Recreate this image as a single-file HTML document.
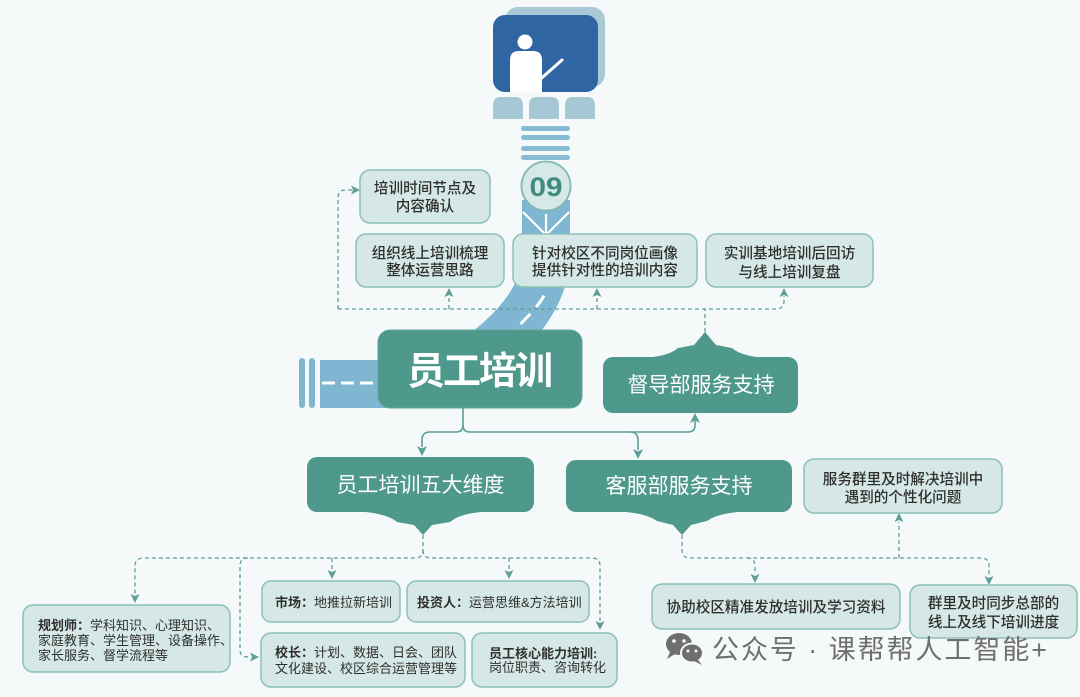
<!DOCTYPE html>
<html>
<head>
<meta charset="utf-8">
<style>
  html,body{margin:0;padding:0;background:#f5f9fa;}
  body{width:1080px;height:697px;overflow:hidden;}
  svg{display:block;}
  text{font-family:"Liberation Sans","Noto Sans CJK SC",sans-serif;}
</style>
</head>
<body>
<svg width="1080" height="697" viewBox="0 0 1080 697" xmlns="http://www.w3.org/2000/svg">
  <rect x="0" y="0" width="1080" height="697" fill="#f5f9fa"/>

  <!-- ===== Road ===== -->
  <!-- horizontal band left -->
  <rect x="320" y="360" width="120" height="48" fill="#7fb7d3"/>
  <rect x="299" y="358" width="6" height="50" rx="3" fill="#7fb7d3"/>
  <rect x="309" y="358" width="6" height="50" rx="3" fill="#7fb7d3"/>
  <line x1="322" y1="383" x2="378" y2="383" stroke="#ffffff" stroke-width="3" stroke-dasharray="13 6"/>
  <!-- vertical + curve -->
  <path d="M546,200 L546,255 C546,300 505,350 430,384" fill="none" stroke="#7fb7d3" stroke-width="48"/>
  <path d="M546,290 C546,300 505,350 430,384" fill="none" stroke="#ffffff" stroke-width="3" stroke-dasharray="14 9" stroke-dashoffset="-6"/>
  <!-- V lines under circle -->
  <polyline points="523,212 546,235 569,212" fill="none" stroke="#ffffff" stroke-width="2.2"/>
  <line x1="546" y1="214" x2="546" y2="235" stroke="#ffffff" stroke-width="2.2"/>

  <!-- ===== Teacher icon ===== -->
  <rect x="505" y="7" width="100" height="80" rx="13" fill="#a8c9d5"/>
  <rect x="493" y="15" width="105" height="77" rx="12" fill="#2f65a2"/>
  <circle cx="525" cy="42" r="7.5" fill="#ffffff"/>
  <path d="M510,92 L510,60 Q510,51 519,51 L533,51 Q542,51 542,60 L542,92 Z" fill="#ffffff"/>
  <line x1="536" y1="83" x2="562" y2="60" stroke="#ffffff" stroke-width="3" stroke-linecap="round"/>
  <!-- seats -->
  <path d="M493,119 L493,105 Q493,97 501,97 L515,97 Q523,97 523,105 L523,119 Z" fill="#a6c8d4"/>
  <path d="M529,119 L529,105 Q529,97 537,97 L551,97 Q559,97 559,105 L559,119 Z" fill="#a6c8d4"/>
  <path d="M565,119 L565,105 Q565,97 573,97 L587,97 Q595,97 595,105 L595,119 Z" fill="#a6c8d4"/>
  <!-- stripes -->
  <rect x="521" y="126" width="49" height="5" rx="2.5" fill="#86bcd6"/>
  <rect x="521" y="135" width="49" height="5" rx="2.5" fill="#86bcd6"/>
  <rect x="521" y="146" width="49" height="5" rx="2.5" fill="#86bcd6"/>
  <rect x="521" y="155" width="49" height="5" rx="2.5" fill="#86bcd6"/>
  <!-- 09 circle -->
  <circle cx="546" cy="186" r="24.5" fill="#d6e9e6" stroke="#7fb8ae" stroke-width="1.8"/>
  <text x="546" y="196" text-anchor="middle" font-size="27" font-weight="bold" fill="#3f8b7f" textLength="33" lengthAdjust="spacingAndGlyphs">09</text>

  <!-- ===== Top dashed connectors ===== -->
  <g fill="none" stroke="#5d9f96" stroke-width="1.3" stroke-dasharray="4 3">
    <path d="M705,332 L705,309"/>
    <path d="M338,309 L776,309 Q784,309 784,301 L784,296"/>
    <path d="M338,309 L338,198 Q338,190 346,190 L352,190"/>
    <path d="M449,309 L449,296"/>
    <path d="M597,309 L597,296"/>
  </g>
  <g fill="#5d9f96">
    <polygon points="360,190 351,185.5 353,190 351,194.5"/>
    <polygon points="449,288 444.5,297 449,295 453.5,297"/>
    <polygon points="597,288 592.5,297 597,295 601.5,297"/>
    <polygon points="784,288 779.5,297 784,295 788.5,297"/>
  </g>

  <!-- ===== Top light boxes ===== -->
  <g fill="#d5e8e5" stroke="#8cc0b7" stroke-width="1.5">
    <rect x="360" y="170" width="130" height="53" rx="10"/>
    <rect x="356" y="234" width="148" height="53" rx="10"/>
    <rect x="513" y="234" width="184" height="53" rx="10"/>
    <rect x="706" y="234" width="167" height="53" rx="10"/>
  </g>
  <g font-size="14.6" fill="#2f2f2f" text-anchor="middle" font-weight="500">
    <text x="425" y="193">培训时间节点及</text>
    <text x="425" y="211">内容确认</text>
    <text x="430" y="258">组织线上培训梳理</text>
    <text x="430" y="275">整体运营思路</text>
    <text x="605" y="258">针对校区不同岗位画像</text>
    <text x="605" y="275">提供针对性的培训内容</text>
    <text x="789.5" y="258">实训基地培训后回访</text>
    <text x="789.5" y="277">与线上培训复盘</text>
  </g>

  <!-- ===== Main box ===== -->
  <rect x="378" y="330" width="204" height="78" rx="12" fill="#4f988c" stroke="#5ea69a" stroke-width="1"/>
  <text x="480" y="384" text-anchor="middle" font-size="38" font-weight="bold" fill="#ffffff" textLength="146" lengthAdjust="spacing">员工培训</text>

  <!-- 督导部 box with roof pointer -->
  <path d="M640,358 Q668,357 678,348 L694,345 L705,332 L716,345 L732,348 Q742,357 770,358 Z" fill="#4f988c"/>
  <rect x="603" y="357" width="195" height="56" rx="10" fill="#4f988c"/>
  <text x="701" y="392" text-anchor="middle" font-size="21" fill="#ffffff">督导部服务支持</text>

  <!-- ===== Solid connectors ===== -->
  <g fill="none" stroke="#5a9f95" stroke-width="1.6">
    <path d="M463,408 L463,425 Q463,432 456,432 L430,432 Q422,432 422,440 L422,447"/>
    <path d="M463,425 Q463,432 470,432 L630,432 Q638,432 638,440 L638,450"/>
    <path d="M630,432 L688,432 Q695,432 695,425 L695,421"/>
  </g>
  <g fill="#5a9f95">
    <polygon points="422,456 417,446 422,448.5 427,446"/>
    <polygon points="638,459 633,449 638,451.5 643,449"/>
    <polygon points="695,413 690,423 695,420.5 700,423"/>
  </g>

  <!-- ===== Second-level dark boxes ===== -->
  <path d="M350,511 Q385,512 397,522 L414,525 L423,535 L432,525 L450,522 Q461,512 496,511 Z" fill="#4f988c"/>
  <rect x="307" y="457" width="227" height="55" rx="10" fill="#4f988c"/>
  <text x="420.5" y="492" text-anchor="middle" font-size="21" fill="#ffffff">员工培训五大维度</text>

  <path d="M610,511 Q645,512 657,521 L673,525 L682,535 L691,525 L707,521 Q719,512 754,511 Z" fill="#4f988c"/>
  <rect x="566" y="460" width="226" height="52" rx="10" fill="#4f988c"/>
  <text x="679" y="493" text-anchor="middle" font-size="21" fill="#ffffff">客服部服务支持</text>

  <!-- ===== Right dashed connectors ===== -->
  <g fill="none" stroke="#5d9f96" stroke-width="1.3" stroke-dasharray="4 3">
    <path d="M682,535 L682,550 Q682,558 690,558 L981,558 Q989,558 989,566 L989,576"/>
    <path d="M747,558 Q755,558 755,566 L755,574"/>
    <path d="M899,558 L899,522"/>
  </g>
  <g fill="#5d9f96">
    <polygon points="755,583 750.5,574 755,576 759.5,574"/>
    <polygon points="989,585 984.5,576 989,578 993.5,576"/>
    <polygon points="899,513 894.5,522 899,520 903.5,522"/>
  </g>

  <g fill="#d5e8e5" stroke="#8cc0b7" stroke-width="1.5">
    <rect x="804" y="459" width="198" height="54" rx="10"/>
    <rect x="652" y="584" width="248" height="45" rx="10"/>
    <rect x="910" y="585" width="167" height="53" rx="10"/>
  </g>
  <g font-size="14.6" fill="#2f2f2f" text-anchor="middle" font-weight="500">
    <text x="903" y="484">服务群里及时解决培训中</text>
    <text x="903" y="502">遇到的个性化问题</text>
    <text x="776" y="612">协助校区精准发放培训及学习资料</text>
    <text x="993.5" y="608">群里及时同步总部的</text>
    <text x="993.5" y="627">线上及线下培训进度</text>
  </g>

  <!-- ===== Bottom-left dashed connectors ===== -->
  <g fill="none" stroke="#5d9f96" stroke-width="1.3" stroke-dasharray="4 3">
    <path d="M423,535 L423,550 Q423,558 415,558 L144,558 Q135,558 135,566 L135,594"/>
    <path d="M423,550 Q423,558 431,558 L592,558 Q600,558 600,566 L600,621"/>
    <path d="M248,558 Q240,558 240,566 L240,650 Q240,657 248,657 L250,657"/>
    <path d="M332,558 L332,570"/>
    <path d="M509,558 L509,570"/>
  </g>
  <g fill="#5d9f96">
    <polygon points="135,603 130.5,594 135,596 139.5,594"/>
    <polygon points="332,579 327.5,570 332,572 336.5,570"/>
    <polygon points="509,579 504.5,570 509,572 513.5,570"/>
    <polygon points="600,630 595.5,621 600,623 604.5,621"/>
    <polygon points="259,657 250,652.5 252,657 250,661.5"/>
  </g>

  <g fill="#d5e8e5" stroke="#8cc0b7" stroke-width="1.5">
    <rect x="23" y="605" width="207" height="67" rx="10"/>
    <rect x="262" y="581" width="138" height="41" rx="9"/>
    <rect x="407" y="581" width="182" height="41" rx="9"/>
    <rect x="261" y="633" width="204" height="54" rx="10"/>
    <rect x="472" y="633" width="145" height="54" rx="10"/>
  </g>
  <g font-size="13" fill="#2f2f2f">
    <text x="38" y="630"><tspan font-weight="bold">规划师：</tspan>学科知识、心理知识、</text>
    <text x="38" y="645">家庭教育、学生管理、设备操作、</text>
    <text x="38" y="660">家长服务、督学流程等</text>
    <text x="275" y="607"><tspan font-weight="bold">市场：</tspan>地推拉新培训</text>
    <text x="417" y="607"><tspan font-weight="bold">投资人：</tspan>运营思维&amp;方法培训</text>
    <text x="275" y="657"><tspan font-weight="bold">校长：</tspan>计划、数据、日会、团队</text>
    <text x="275" y="673">文化建设、校区综合运营管理等</text>
    <text x="489" y="658" font-weight="bold">员工核心能力培训:</text>
    <text x="489" y="672">岗位职责、咨询转化</text>
  </g>

  <!-- ===== Watermark ===== -->
  <g fill="#6f6f6f">
    <ellipse cx="679" cy="644" rx="13" ry="11"/>
    <path d="M670,652 L667,659 L675,654 Z"/>
    <ellipse cx="692" cy="653" rx="11" ry="9.5" stroke="#f5f9fa" stroke-width="2"/>
    <path d="M698,660 L702,665 L694,661 Z"/>
  </g>
  <g fill="#f5f9fa">
    <circle cx="674" cy="641" r="1.8"/>
    <circle cx="684" cy="641" r="1.8"/>
    <circle cx="688" cy="651" r="1.5"/>
    <circle cx="696" cy="651" r="1.5"/>
  </g>
  <text x="712" y="659" font-size="27" fill="#6f6f6f" textLength="335" lengthAdjust="spacing">公众号 · 课帮帮人工智能+</text>
</svg>
</body>
</html>
